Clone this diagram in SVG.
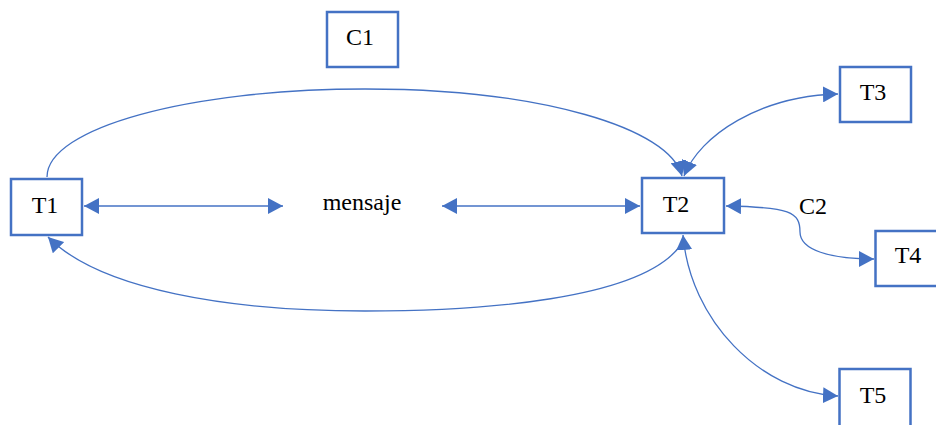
<svg xmlns="http://www.w3.org/2000/svg" width="936" height="425" viewBox="0 0 936 425">
  <defs>
    <style>
      .box { fill: #ffffff; stroke: #4472C4; stroke-width: 2.5; }
      .lbl { font-family: "Liberation Serif", "Times New Roman", serif; font-size: 24px; fill: #000000; text-anchor: middle; }
      .wire { fill: none; stroke: #4472C4; stroke-width: 1.3; }
      .end { marker-end: url(#arrow); }
      .both { marker-start: url(#arrow); marker-end: url(#arrow); }
    </style>
    <marker id="arrow" viewBox="0 0 15 16" refX="15" refY="8" markerWidth="15" markerHeight="16" markerUnits="userSpaceOnUse" orient="auto-start-reverse">
      <path d="M0 0 L15 8 L0 16 Z" fill="#4472C4"/>
    </marker>
  </defs>
  <rect width="936" height="425" fill="#ffffff"/>

  <!-- connectors -->
  <g id="connectors">
    <!-- T1 <-> mensaje -->
    <line class="wire both" x1="84" y1="206" x2="283" y2="206"/>
    <!-- mensaje <-> T2 -->
    <line class="wire both" x1="442" y1="206" x2="640" y2="206"/>
    <!-- upper arc T1 -> T2 -->
    <path class="wire end" d="M 47 177 C 47 128, 189 89, 365 89 C 541 89, 670 128, 682 176"/>
    <!-- lower arc T2 -> T1 -->
    <path class="wire end" d="M 680 246 C 640 300, 480 311, 365 311 C 230 311, 100 290, 48 237"/>
    <!-- T2 <-> T3 -->
    <path class="wire both" d="M 684 176 C 700 135, 760 96, 838 94"/>
    <!-- T2 <-> T4 -->
    <path class="wire both" d="M 726 206 C 790 207, 800 212, 800 232 C 800 250, 830 259, 874 259"/>
    <!-- T2 <-> T5 -->
    <path class="wire both" d="M 683 235 C 690 320, 760 392, 838 396"/>
  </g>

  <g id="C1">
    <rect class="box" x="327" y="12" width="71" height="55"/>
    <text class="lbl" x="360" y="45">C1</text>
  </g>
  <g id="T1">
    <rect class="box" x="11" y="179" width="71" height="56"/>
    <text class="lbl" x="45" y="213">T1</text>
  </g>
  <g id="mensaje">
    <text class="lbl" x="362" y="210">mensaje</text>
  </g>
  <g id="T2">
    <rect class="box" x="642" y="178" width="82" height="55"/>
    <text class="lbl" x="676" y="212">T2</text>
  </g>
  <g id="C2">
    <text class="lbl" x="813" y="214">C2</text>
  </g>
  <g id="T3">
    <rect class="box" x="840" y="67" width="71" height="55"/>
    <text class="lbl" x="873" y="100">T3</text>
  </g>
  <g id="T4">
    <rect class="box" x="875.5" y="231" width="71" height="55"/>
    <text class="lbl" x="908" y="263">T4</text>
  </g>
  <g id="T5">
    <rect class="box" x="839.5" y="369" width="71" height="60"/>
    <text class="lbl" x="873" y="403">T5</text>
  </g>
</svg>
